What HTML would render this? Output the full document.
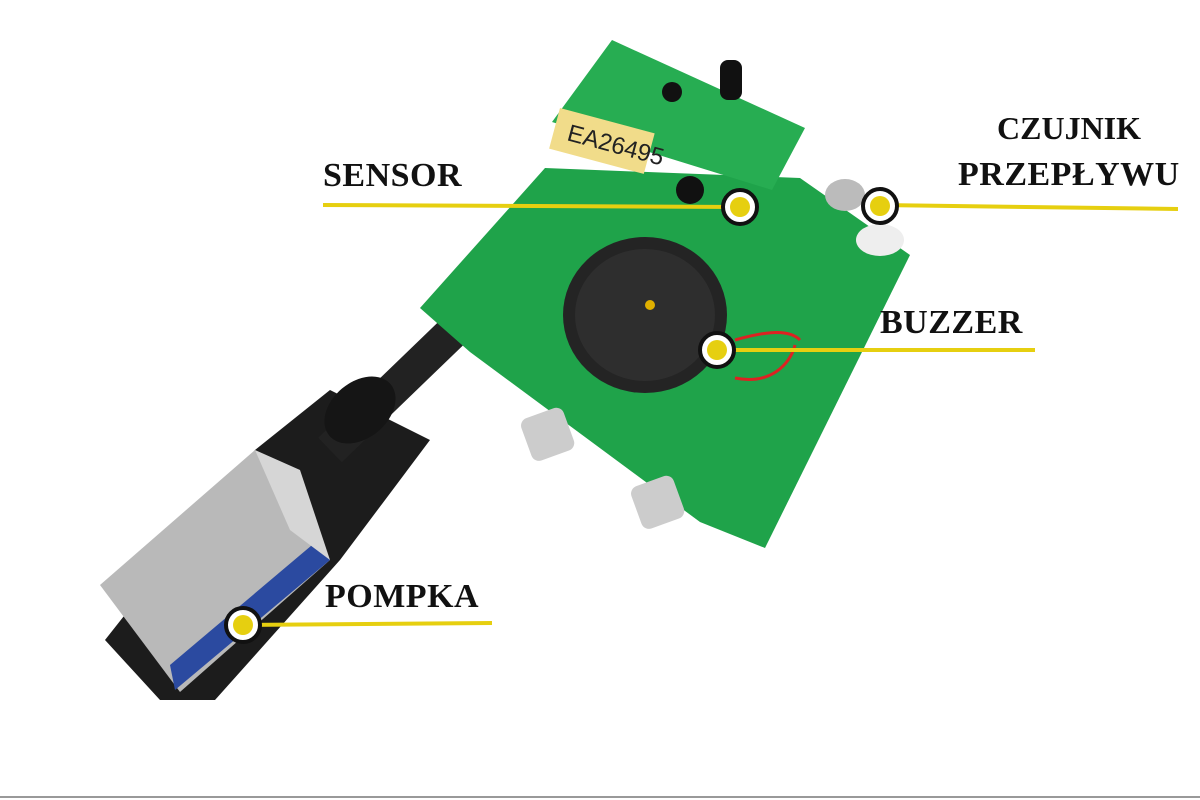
<!DOCTYPE html>
<html><head><meta charset="utf-8"><style>
html,body{margin:0;padding:0;background:#fff;}
.w{position:relative;width:1200px;height:800px;overflow:hidden;background:#fff;}
.t{position:absolute;font-family:"Liberation Serif",serif;font-weight:bold;font-size:34px;color:#111;letter-spacing:0.5px;line-height:1;}
</style></head><body><div class="w">
<svg width="1200" height="800" style="position:absolute;left:0;top:0">
<polygon points="255,450 330,390 430,440 340,560 215,700 160,700 105,640" fill="#1c1c1c"/>
<line x1="330" y1="450" x2="470" y2="315" stroke="#222" stroke-width="34"/>
<ellipse cx="360" cy="410" rx="40" ry="28" fill="#151515" transform="rotate(-40 360 410)"/>
<polygon points="545,168 800,178 910,255 765,548 700,522 470,352 420,308" fill="#1fa34a"/>
<polygon points="612,40 805,128 772,190 552,122" fill="#27ad52"/>
<rect x="560" y="108" width="98" height="42" fill="#f1dc8a" transform="rotate(15 560 108)"/>
<text x="566" y="140" font-family="Liberation Sans,sans-serif" font-size="24" fill="#222" transform="rotate(15 566 140)">EA26495</text>
<rect x="720" y="60" width="22" height="40" rx="8" fill="#111"/>
<circle cx="672" cy="92" r="10" fill="#111"/>
<circle cx="690" cy="190" r="14" fill="#111"/>
<rect x="525" y="412" width="45" height="45" rx="8" fill="#ccc" transform="rotate(-20 547 434)"/>
<rect x="635" y="480" width="45" height="45" rx="8" fill="#ccc" transform="rotate(-20 657 502)"/>
<ellipse cx="645" cy="315" rx="82" ry="78" fill="#242424"/>
<ellipse cx="645" cy="315" rx="70" ry="66" fill="#2e2e2e"/>
<circle cx="650" cy="305" r="5" fill="#e0b000"/>
<ellipse cx="845" cy="195" rx="20" ry="16" fill="#bbb"/>
<ellipse cx="880" cy="240" rx="24" ry="16" fill="#eee"/>
<path d="M735,340 C770,330 790,330 800,340" stroke="#d22" stroke-width="3" fill="none"/>
<path d="M735,378 C770,385 790,365 795,345" stroke="#d22" stroke-width="3" fill="none"/>
<polygon points="100,585 255,450 330,560 180,692" fill="#b9b9b9"/>
<polygon points="175,690 330,560 318,540 170,665" fill="#2b4aa0"/>
<polygon points="255,450 300,470 330,560 290,530" fill="#d6d6d6"/>
<g stroke="#e6cf10" stroke-width="4">
<line x1="323" y1="205" x2="740" y2="207"/>
<line x1="880" y1="205" x2="1178" y2="209"/>
<line x1="717" y1="350" x2="1035" y2="350"/>
<line x1="243" y1="625" x2="492" y2="623"/>
</g>
<g stroke="#111" stroke-width="4" fill="#fff">
<circle cx="740" cy="207" r="17"/><circle cx="880" cy="206" r="17"/>
<circle cx="717" cy="350" r="17"/><circle cx="243" cy="625" r="17"/>
</g>
<g fill="#e6cf10">
<circle cx="740" cy="207" r="10"/><circle cx="880" cy="206" r="10"/>
<circle cx="717" cy="350" r="10"/><circle cx="243" cy="625" r="10"/>
</g>
<line x1="0" y1="797" x2="1200" y2="797" stroke="#999" stroke-width="2"/>
</svg>
<div class="t" style="left:323px;top:159px">SENSOR</div>
<div class="t" style="left:997px;top:112px;font-size:32px;letter-spacing:0">CZUJNIK</div>
<div class="t" style="left:958px;top:158px">PRZEPŁYWU</div>
<div class="t" style="left:880px;top:306px">BUZZER</div>
<div class="t" style="left:325px;top:580px">POMPKA</div>
</div></body></html>
